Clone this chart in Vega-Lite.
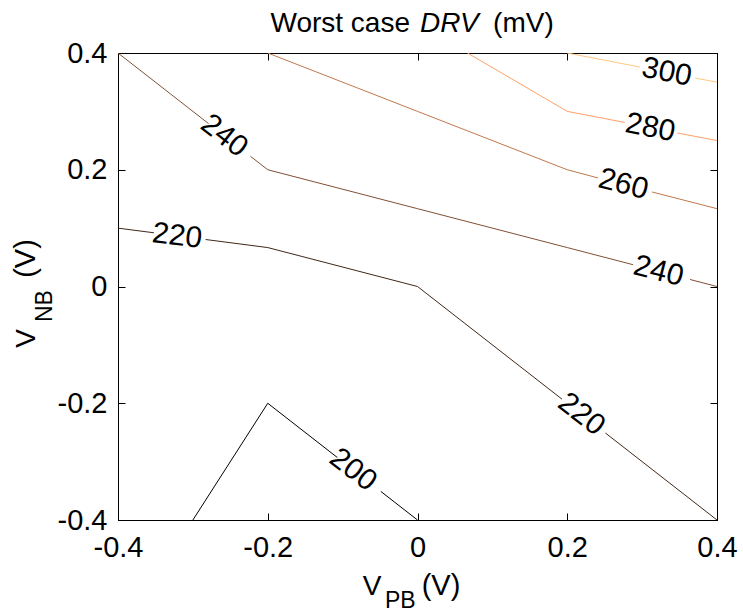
{
  "$schema": "https://vega.github.io/schema/vega-lite/v6.json",
  "width": 599,
  "height": 467,
  "autosize": {"type": "none"},
  "padding": {"left": 118, "top": 53, "right": 26, "bottom": 95},
  "background": "white",
  "config": {
    "view": {"stroke": "black", "strokeWidth": 1},
    "font": "Liberation Sans",
    "axis": {
      "grid": false,
      "domainColor": "black",
      "tickColor": "black",
      "labelColor": "black",
      "labelFont": "Liberation Sans",
      "labelFontSize": 29,
      "tickSize": -7,
      "labelFlush": false,
      "labelOverlap": false
    }
  },
  "datasets": {
    "lines": [
      {"level": 200, "seg": "200a", "ord": 1, "x": -0.3, "y": -0.4},
      {"level": 200, "seg": "200a", "ord": 2, "x": -0.2, "y": -0.2},
      {"level": 200, "seg": "200a", "ord": 3, "x": -0.107, "y": -0.293},
      {"level": 200, "seg": "200b", "ord": 1, "x": -0.049, "y": -0.351},
      {"level": 200, "seg": "200b", "ord": 2, "x": 0.0, "y": -0.4},
      {"level": 220, "seg": "220a", "ord": 1, "x": -0.4, "y": 0.1},
      {"level": 220, "seg": "220a", "ord": 2, "x": -0.352, "y": 0.092},
      {"level": 220, "seg": "220b", "ord": 1, "x": -0.283, "y": 0.0805},
      {"level": 220, "seg": "220b", "ord": 2, "x": -0.2, "y": 0.0667},
      {"level": 220, "seg": "220b", "ord": 3, "x": 0.0, "y": 0.0},
      {"level": 220, "seg": "220b", "ord": 4, "x": 0.193, "y": -0.193},
      {"level": 220, "seg": "220c", "ord": 1, "x": 0.251, "y": -0.251},
      {"level": 220, "seg": "220c", "ord": 2, "x": 0.4, "y": -0.4},
      {"level": 240, "seg": "240a", "ord": 1, "x": -0.4, "y": 0.4},
      {"level": 240, "seg": "240a", "ord": 2, "x": -0.279, "y": 0.279},
      {"level": 240, "seg": "240b", "ord": 1, "x": -0.223, "y": 0.223},
      {"level": 240, "seg": "240b", "ord": 2, "x": -0.2, "y": 0.2},
      {"level": 240, "seg": "240b", "ord": 3, "x": 0.0, "y": 0.1333},
      {"level": 240, "seg": "240b", "ord": 4, "x": 0.2, "y": 0.0667},
      {"level": 240, "seg": "240b", "ord": 5, "x": 0.288, "y": 0.0373},
      {"level": 240, "seg": "240c", "ord": 1, "x": 0.364, "y": 0.012},
      {"level": 240, "seg": "240c", "ord": 2, "x": 0.4, "y": 0.0},
      {"level": 260, "seg": "260a", "ord": 1, "x": -0.2, "y": 0.4},
      {"level": 260, "seg": "260a", "ord": 2, "x": 0.0, "y": 0.3},
      {"level": 260, "seg": "260a", "ord": 3, "x": 0.2, "y": 0.2},
      {"level": 260, "seg": "260a", "ord": 4, "x": 0.241, "y": 0.186},
      {"level": 260, "seg": "260b", "ord": 1, "x": 0.313, "y": 0.162},
      {"level": 260, "seg": "260b", "ord": 2, "x": 0.4, "y": 0.1333},
      {"level": 280, "seg": "280a", "ord": 1, "x": 0.0667, "y": 0.4},
      {"level": 280, "seg": "280a", "ord": 2, "x": 0.2, "y": 0.3},
      {"level": 280, "seg": "280a", "ord": 3, "x": 0.277, "y": 0.281},
      {"level": 280, "seg": "280b", "ord": 1, "x": 0.347, "y": 0.263},
      {"level": 280, "seg": "280b", "ord": 2, "x": 0.4, "y": 0.25},
      {"level": 300, "seg": "300a", "ord": 1, "x": 0.2, "y": 0.4},
      {"level": 300, "seg": "300a", "ord": 2, "x": 0.297, "y": 0.376},
      {"level": 300, "seg": "300b", "ord": 1, "x": 0.371, "y": 0.357},
      {"level": 300, "seg": "300b", "ord": 2, "x": 0.4, "y": 0.35}
    ],
    "labels": [
      {"id": "200", "text": "200", "x": -0.086, "y": -0.314},
      {"id": "220L", "text": "220", "x": -0.321, "y": 0.0865},
      {"id": "220R", "text": "220", "x": 0.219, "y": -0.219},
      {"id": "240L", "text": "240", "x": -0.258, "y": 0.258},
      {"id": "240R", "text": "240", "x": 0.322, "y": 0.026},
      {"id": "260", "text": "260", "x": 0.275, "y": 0.175},
      {"id": "280", "text": "280", "x": 0.311, "y": 0.272},
      {"id": "300", "text": "300", "x": 0.333, "y": 0.367}
    ],
    "one": [{}]
  },
  "resolve": {"axis": {"x": "independent", "y": "independent"}},
  "layer": [
    {
      "data": {"name": "lines"},
      "mark": {"type": "line", "strokeWidth": 1, "clip": true},
      "encoding": {
        "x": {
          "field": "x", "type": "quantitative",
          "scale": {"domain": [-0.4, 0.4], "nice": false, "zero": false},
          "axis": {
            "values": [-0.4, -0.2, 0, 0.2, 0.4], "title": null, "labelPadding": 20,
            "labelExpr": "datum.value == 0 ? '0' : (datum.value < 0 ? '-' + format(-datum.value, '.1f') : format(datum.value, '.1f'))"
          }
        },
        "y": {
          "field": "y", "type": "quantitative",
          "scale": {"domain": [-0.4, 0.4], "nice": false, "zero": false},
          "axis": {
            "values": [-0.4, -0.2, 0, 0.2, 0.4], "title": null, "labelPadding": 18,
            "labelExpr": "datum.value == 0 ? '0' : (datum.value < 0 ? '-' + format(-datum.value, '.1f') : format(datum.value, '.1f'))"
          }
        },
        "color": {
          "field": "level", "type": "nominal", "legend": null,
          "scale": {"domain": [200, 220, 240, 260, 280, 300], "range": ["#000000", "#402819", "#805033", "#BF784C", "#FFA066", "#FFC77F"]}
        },
        "detail": {"field": "seg"},
        "order": {"field": "ord", "type": "quantitative"}
      }
    },
    {
      "data": {"name": "labels"},
      "transform": [{"filter": {"field": "id", "oneOf": ["200", "220R", "240L"]}}],
      "mark": {"type": "text", "fontSize": 30, "font": "Liberation Sans", "angle": 38, "align": "center", "baseline": "middle", "color": "black"},
      "encoding": {
        "x": {"field": "x", "type": "quantitative", "scale": {"domain": [-0.4, 0.4], "nice": false, "zero": false},
          "axis": {"orient": "top", "values": [-0.4, -0.2, 0, 0.2, 0.4], "labels": false, "title": null}},
        "y": {"field": "y", "type": "quantitative", "scale": {"domain": [-0.4, 0.4], "nice": false, "zero": false},
          "axis": {"orient": "right", "values": [-0.4, -0.2, 0, 0.2, 0.4], "labels": false, "title": null}},
        "text": {"field": "text"}
      }
    },
    {
      "data": {"name": "labels"},
      "transform": [{"filter": {"field": "id", "oneOf": ["220L"]}}],
      "mark": {"type": "text", "fontSize": 30, "font": "Liberation Sans", "angle": 7, "align": "center", "baseline": "middle", "color": "black"},
      "encoding": {
        "x": {"field": "x", "type": "quantitative", "scale": {"domain": [-0.4, 0.4], "nice": false, "zero": false}, "axis": null},
        "y": {"field": "y", "type": "quantitative", "scale": {"domain": [-0.4, 0.4], "nice": false, "zero": false}, "axis": null},
        "text": {"field": "text"}
      }
    },
    {
      "data": {"name": "labels"},
      "transform": [{"filter": {"field": "id", "oneOf": ["240R", "260"]}}],
      "mark": {"type": "text", "fontSize": 30, "font": "Liberation Sans", "angle": 14.5, "align": "center", "baseline": "middle", "color": "black"},
      "encoding": {
        "x": {"field": "x", "type": "quantitative", "scale": {"domain": [-0.4, 0.4], "nice": false, "zero": false}, "axis": null},
        "y": {"field": "y", "type": "quantitative", "scale": {"domain": [-0.4, 0.4], "nice": false, "zero": false}, "axis": null},
        "text": {"field": "text"}
      }
    },
    {
      "data": {"name": "labels"},
      "transform": [{"filter": {"field": "id", "oneOf": ["280", "300"]}}],
      "mark": {"type": "text", "fontSize": 30, "font": "Liberation Sans", "angle": 11, "align": "center", "baseline": "middle", "color": "black"},
      "encoding": {
        "x": {"field": "x", "type": "quantitative", "scale": {"domain": [-0.4, 0.4], "nice": false, "zero": false}, "axis": null},
        "y": {"field": "y", "type": "quantitative", "scale": {"domain": [-0.4, 0.4], "nice": false, "zero": false}, "axis": null},
        "text": {"field": "text"}
      }
    },
    {
      "data": {"name": "one"},
      "mark": {"type": "text", "fontSize": 28, "font": "Liberation Sans", "align": "right", "baseline": "alphabetic", "color": "black", "text": "Worst case"},
      "encoding": {
        "x": {"datum": -0.010, "type": "quantitative", "scale": {"domain": [-0.4, 0.4], "nice": false, "zero": false}, "axis": null},
        "y": {"datum": 0.436, "type": "quantitative", "scale": {"domain": [-0.4, 0.4], "nice": false, "zero": false}, "axis": null}
      }
    },
    {
      "data": {"name": "one"},
      "mark": {"type": "text", "fontSize": 28, "font": "Liberation Sans", "fontStyle": "italic", "align": "left", "baseline": "alphabetic", "color": "black", "text": "DRV"},
      "encoding": {
        "x": {"datum": 0.0033, "type": "quantitative", "scale": {"domain": [-0.4, 0.4], "nice": false, "zero": false}, "axis": null},
        "y": {"datum": 0.436, "type": "quantitative", "scale": {"domain": [-0.4, 0.4], "nice": false, "zero": false}, "axis": null}
      }
    },
    {
      "data": {"name": "one"},
      "mark": {"type": "text", "fontSize": 28, "font": "Liberation Sans", "align": "left", "baseline": "alphabetic", "color": "black", "text": "(mV)"},
      "encoding": {
        "x": {"datum": 0.101, "type": "quantitative", "scale": {"domain": [-0.4, 0.4], "nice": false, "zero": false}, "axis": null},
        "y": {"datum": 0.436, "type": "quantitative", "scale": {"domain": [-0.4, 0.4], "nice": false, "zero": false}, "axis": null}
      }
    },
    {
      "data": {"name": "one"},
      "mark": {"type": "text", "fontSize": 28, "font": "Liberation Sans", "align": "center", "baseline": "alphabetic", "color": "black", "text": "V"},
      "encoding": {
        "x": {"datum": -0.0608, "type": "quantitative", "scale": {"domain": [-0.4, 0.4], "nice": false, "zero": false}, "axis": null},
        "y": {"datum": -0.5285, "type": "quantitative", "scale": {"domain": [-0.4, 0.4], "nice": false, "zero": false}, "axis": null}
      }
    },
    {
      "data": {"name": "one"},
      "mark": {"type": "text", "fontSize": 23, "font": "Liberation Sans", "align": "left", "baseline": "alphabetic", "color": "black", "text": "PB"},
      "encoding": {
        "x": {"datum": -0.0434, "type": "quantitative", "scale": {"domain": [-0.4, 0.4], "nice": false, "zero": false}, "axis": null},
        "y": {"datum": -0.5507, "type": "quantitative", "scale": {"domain": [-0.4, 0.4], "nice": false, "zero": false}, "axis": null}
      }
    },
    {
      "data": {"name": "one"},
      "mark": {"type": "text", "fontSize": 29, "font": "Liberation Sans", "align": "center", "baseline": "alphabetic", "color": "black", "text": "(V)"},
      "encoding": {
        "x": {"datum": 0.0314, "type": "quantitative", "scale": {"domain": [-0.4, 0.4], "nice": false, "zero": false}, "axis": null},
        "y": {"datum": -0.5285, "type": "quantitative", "scale": {"domain": [-0.4, 0.4], "nice": false, "zero": false}, "axis": null}
      }
    },
    {
      "data": {"name": "one"},
      "mark": {"type": "text", "fontSize": 28, "font": "Liberation Sans", "angle": 270, "align": "center", "baseline": "alphabetic", "color": "black", "text": "V"},
      "encoding": {
        "x": {"datum": -0.5108, "type": "quantitative", "scale": {"domain": [-0.4, 0.4], "nice": false, "zero": false}, "axis": null},
        "y": {"datum": -0.089, "type": "quantitative", "scale": {"domain": [-0.4, 0.4], "nice": false, "zero": false}, "axis": null}
      }
    },
    {
      "data": {"name": "one"},
      "mark": {"type": "text", "fontSize": 23, "font": "Liberation Sans", "angle": 270, "align": "left", "baseline": "alphabetic", "color": "black", "text": "NB"},
      "encoding": {
        "x": {"datum": -0.488, "type": "quantitative", "scale": {"domain": [-0.4, 0.4], "nice": false, "zero": false}, "axis": null},
        "y": {"datum": -0.0608, "type": "quantitative", "scale": {"domain": [-0.4, 0.4], "nice": false, "zero": false}, "axis": null}
      }
    },
    {
      "data": {"name": "one"},
      "mark": {"type": "text", "fontSize": 29, "font": "Liberation Sans", "angle": 270, "align": "center", "baseline": "alphabetic", "color": "black", "text": "(V)"},
      "encoding": {
        "x": {"datum": -0.5108, "type": "quantitative", "scale": {"domain": [-0.4, 0.4], "nice": false, "zero": false}, "axis": null},
        "y": {"datum": 0.048, "type": "quantitative", "scale": {"domain": [-0.4, 0.4], "nice": false, "zero": false}, "axis": null}
      }
    }
  ]
}
